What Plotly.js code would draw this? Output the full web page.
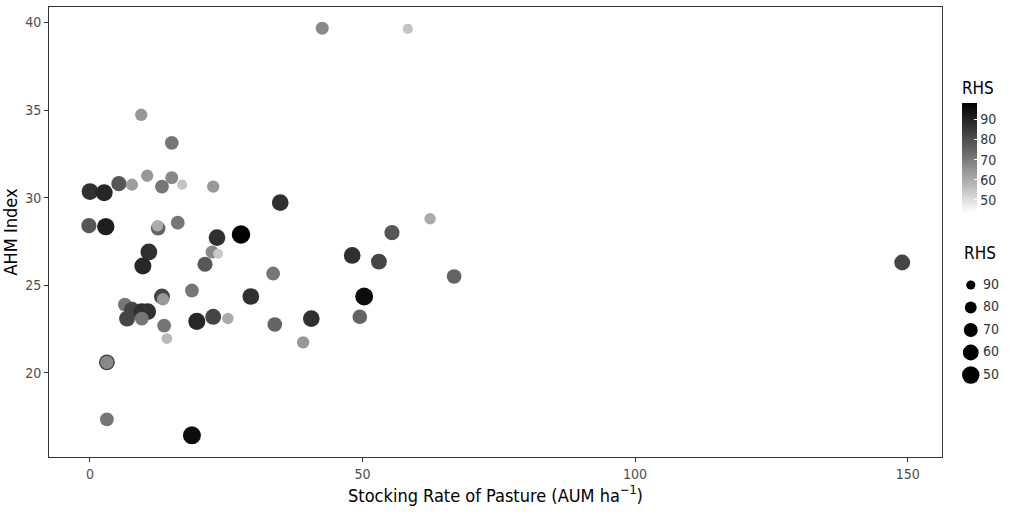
<!DOCTYPE html>
<html>
<head>
<meta charset="utf-8">
<script src="https://cdn.plot.ly/plotly-3.0.1.min.js"></script>
<style>html,body{margin:0;padding:0;background:#fff;}#chart{width:1010px;height:516px;}</style>
</head>
<body>
<div id="chart"></div>
<script>
// Stocking rate of pasture (AUM ha^-1)
var stockingRate = [42.6, 58.3, 9.4, 15.0, 0.0, 2.6, 5.3, 7.7, 10.5, 13.2, 15.0, 16.9, 22.6, -0.2, 2.9, 12.5, 12.4, 16.1, 23.3, 34.9,
  27.7, 22.4, 23.5, 21.1, 33.6, 18.7, 29.5, 19.6, 22.6, 25.3, 33.9, 40.6, 39.1, 62.4, 55.4, 48.1, 53.0, 66.8, 50.3, 49.5,
  10.8, 9.7, 6.4, 7.7, 6.8, 9.5, 10.6, 9.5, 13.2, 13.4, 13.6, 14.1, 3.1, 3.1, 3.1, 18.7, 149.0];
// AHM index
var ahmIndex = [39.67, 39.63, 34.73, 33.13, 30.35, 30.28, 30.8, 30.74, 31.25, 30.63, 31.14, 30.74, 30.63, 28.4, 28.35, 28.25, 28.4, 28.57, 27.72, 29.72,
  27.9, 26.9, 26.8, 26.2, 25.67, 24.7, 24.36, 22.94, 23.2, 23.1, 22.76, 23.1, 21.74, 28.8, 28.0, 26.7, 26.35, 25.5, 24.36, 23.2,
  26.9, 26.1, 23.9, 23.6, 23.1, 23.5, 23.5, 23.1, 24.36, 24.2, 22.7, 21.96, 20.6, 20.6, 17.35, 16.44, 26.3];
// RHS
var rhs = [67, 55, 64, 71, 87, 89, 78, 63, 64, 71, 67, 55, 64, 78, 91, 75, 60, 71, 87, 87,
  98, 67, 54, 78, 71, 71, 87, 89, 82, 60, 75, 87, 64, 60, 78, 87, 82, 75, 95, 75,
  87, 89, 71, 82, 82, 87, 87, 71, 82, 64, 71, 57, 82, 67, 71, 95, 82];
// size legend values
var sizeLegendValues = [90, 80, 70, 60, 50];
var colorTicks = [50, 60, 70, 80, 90];

var RHS_MIN = 43.5, RHS_MAX = 98;
function sizeScale(v) { var t = (v - RHS_MIN) / (RHS_MAX - RHS_MIN); return Math.sqrt(40 + 300 * t); }
function legendSizeScale(v) { var t = (v - RHS_MIN) / (RHS_MAX - RHS_MIN); return Math.sqrt(40 + 300 * (1 - t)); }

var FONT = "'Liberation Sans Narrow', 'Arial Narrow', 'DejaVu Sans Condensed', sans-serif";
var greyScale = [[0, '#ffffff'], [0.25, '#b9b9b9'], [0.5, '#777777'], [0.75, '#3b3b3b'], [1, '#000000']];

var main = {
  type: 'scatter', mode: 'markers',
  x: stockingRate, y: ahmIndex,
  xaxis: 'x', yaxis: 'y',
  hoverinfo: 'x+y',
  marker: {
    color: rhs, colorscale: greyScale, cmin: RHS_MIN, cmax: RHS_MAX,
    size: rhs.map(sizeScale), line: {width: 0}, opacity: 1,
    showscale: true,
    colorbar: {
      x: 0.96, xanchor: 'left', y: 0.842, yanchor: 'top',
      len: 135, lenmode: 'pixels', thickness: 15, xpad: 0, ypad: 0,
      outlinewidth: 0,
      tickvals: colorTicks, ticks: 'inside', ticklen: 3, tickcolor: '#ffffff', tickwidth: 1,
      tickfont: {family: FONT, size: 14, color: '#333333'},
      title: {text: 'RHS', side: 'top', font: {family: FONT, size: 17, color: '#000000'}}
    }
  },
  showlegend: false
};

var sizeLegend = {
  type: 'scatter', mode: 'markers',
  x: sizeLegendValues.map(function () { return 0.35; }),
  y: sizeLegendValues,
  xaxis: 'x2', yaxis: 'y2',
  marker: {color: 'rgb(0,0,0)', size: sizeLegendValues.map(legendSizeScale), line: {width: 0}, opacity: 1},
  opacity: 1,
  hoverinfo: 'skip', showlegend: false
};
var sizeLegendText = {
  type: 'scatter', mode: 'text',
  x: sizeLegendValues.map(function () { return 0.62; }),
  y: sizeLegendValues,
  text: sizeLegendValues.map(String),
  textposition: 'middle right',
  textfont: {family: FONT, size: 14, color: '#333333'},
  xaxis: 'x2', yaxis: 'y2',
  hoverinfo: 'skip', showlegend: false
};

var layout = {
  width: 1010, height: 516,
  margin: {l: 49, r: 10, t: 7, b: 59},
  paper_bgcolor: '#ffffff', plot_bgcolor: '#ffffff',
  font: {family: FONT, color: '#4d4d4d'},
  xaxis: {
    domain: [0, 0.939], range: [-7.52, 156.3],
    tickvals: [0, 50, 100, 150], ticks: 'outside', ticklen: 4, tickcolor: '#333333',
    showgrid: false, zeroline: false,
    showline: true, mirror: true, linecolor: '#333333', linewidth: 1,
    tickfont: {family: FONT, size: 14, color: '#4d4d4d'},
    title: {text: 'Stocking Rate of Pasture (AUM ha<sup>\u22121</sup>)', font: {family: FONT, size: 18, color: '#000000'}, standoff: 8}
  },
  yaxis: {
    range: [15.2, 40.88],
    tickvals: [20, 25, 30, 35, 40], ticks: 'outside', ticklen: 4, tickcolor: '#333333',
    showgrid: false, zeroline: false,
    showline: true, mirror: true, linecolor: '#333333', linewidth: 1,
    tickfont: {family: FONT, size: 14, color: '#4d4d4d'},
    title: {text: 'AHM Index', font: {family: FONT, size: 18, color: '#000000'}, standoff: 12}
  },
  xaxis2: {domain: [0.9527, 1], range: [0, 1], visible: false, fixedrange: true, anchor: 'y2'},
  yaxis2: {domain: [0.1572, 0.4072], range: [45, 95], visible: false, fixedrange: true, anchor: 'x2'},
  annotations: [{
    xref: 'paper', yref: 'paper', x: 0.96, y: 0.453, xanchor: 'left', yanchor: 'middle',
    text: 'RHS', showarrow: false, font: {family: FONT, size: 17, color: '#000000'}
  }]
};
Plotly.newPlot('chart', [main, sizeLegend, sizeLegendText], layout, {displayModeBar: false, staticPlot: true});
</script>
</body>
</html>
